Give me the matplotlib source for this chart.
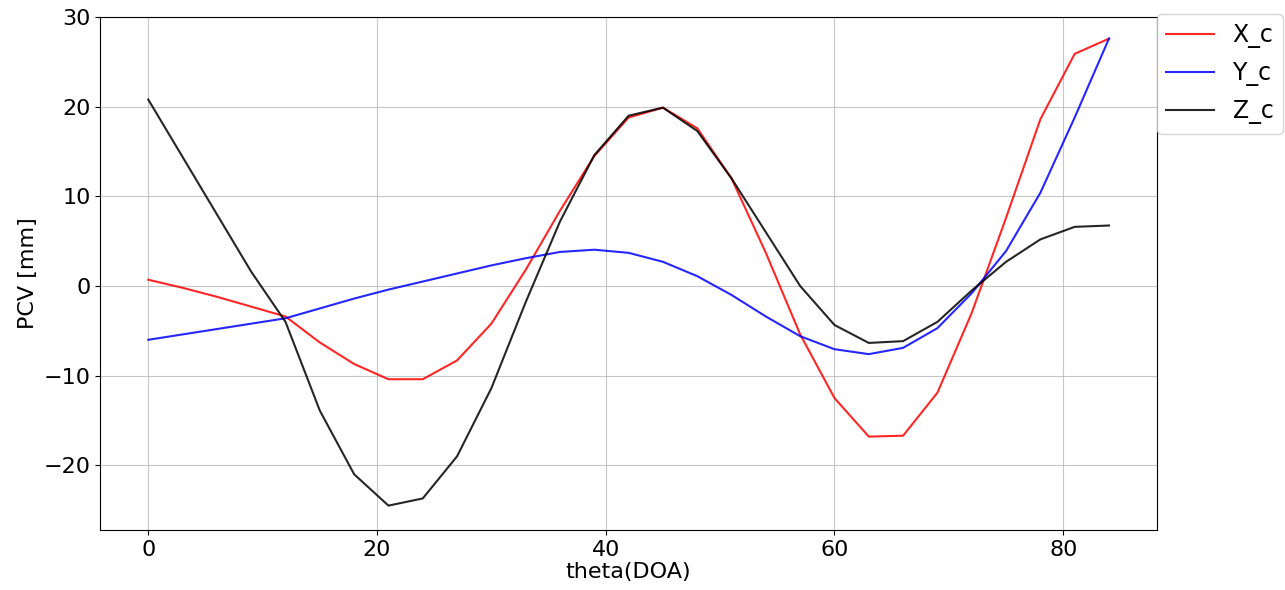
import matplotlib
matplotlib.use("Agg")
import matplotlib.pyplot as plt

theta = list(range(0, 85, 3))
x_c = [0.7, -0.2, -1.2, -2.3, -3.4, -6.3, -8.7, -10.4, -10.4, -8.3, -4.2, 1.8,
       8.4, 14.5, 18.8, 19.9, 17.6, 12.0, 3.7, -5.4, -12.5, -16.8, -16.7, -11.9,
       -3.0, 7.6, 18.6, 25.9, 27.6]
y_c = [-6.0, -5.4, -4.8, -4.2, -3.6, -2.5, -1.4, -0.4, 0.5, 1.4, 2.3, 3.1,
       3.8, 4.05, 3.7, 2.7, 1.1, -1.0, -3.4, -5.6, -7.05, -7.6, -6.9, -4.7,
       -0.8, 3.9, 10.4, 18.8, 27.6]
z_c = [20.8, 14.4, 8.0, 1.6, -4.0, -13.9, -21.0, -24.5, -23.7, -19.0, -11.4, -1.8,
       7.2, 14.6, 19.0, 19.9, 17.3, 12.0, 6.0, 0.0, -4.35, -6.35, -6.15, -4.0,
       -0.5, 2.7, 5.2, 6.6, 6.75]

fig = plt.figure(figsize=(12.85, 5.9), dpi=100)
ax = fig.add_axes([0.078, 0.102, 0.8224, 0.869])
ax.plot(theta, x_c, color="red", alpha=0.85, lw=1.5, label="X_c")
ax.plot(theta, y_c, color="blue", alpha=0.85, lw=1.5, label="Y_c")
ax.plot(theta, z_c, color="black", alpha=0.85, lw=1.5, label="Z_c")
ax.set_ylim(-27.2, 30)
ax.set_xlim(-4.2, 88.2)
ax.grid(True, color="#b0b0b0", alpha=0.7)
ax.tick_params(labelsize=16)
ax.set_xlabel("theta(DOA)", fontsize=16, labelpad=2)
ax.set_ylabel("PCV [mm]", fontsize=16)
ax.legend(loc="upper left", bbox_to_anchor=(1.0, 1.006), fontsize=17,
          borderaxespad=0, labelspacing=0.55)
fig.savefig("out.png", dpi=100)
